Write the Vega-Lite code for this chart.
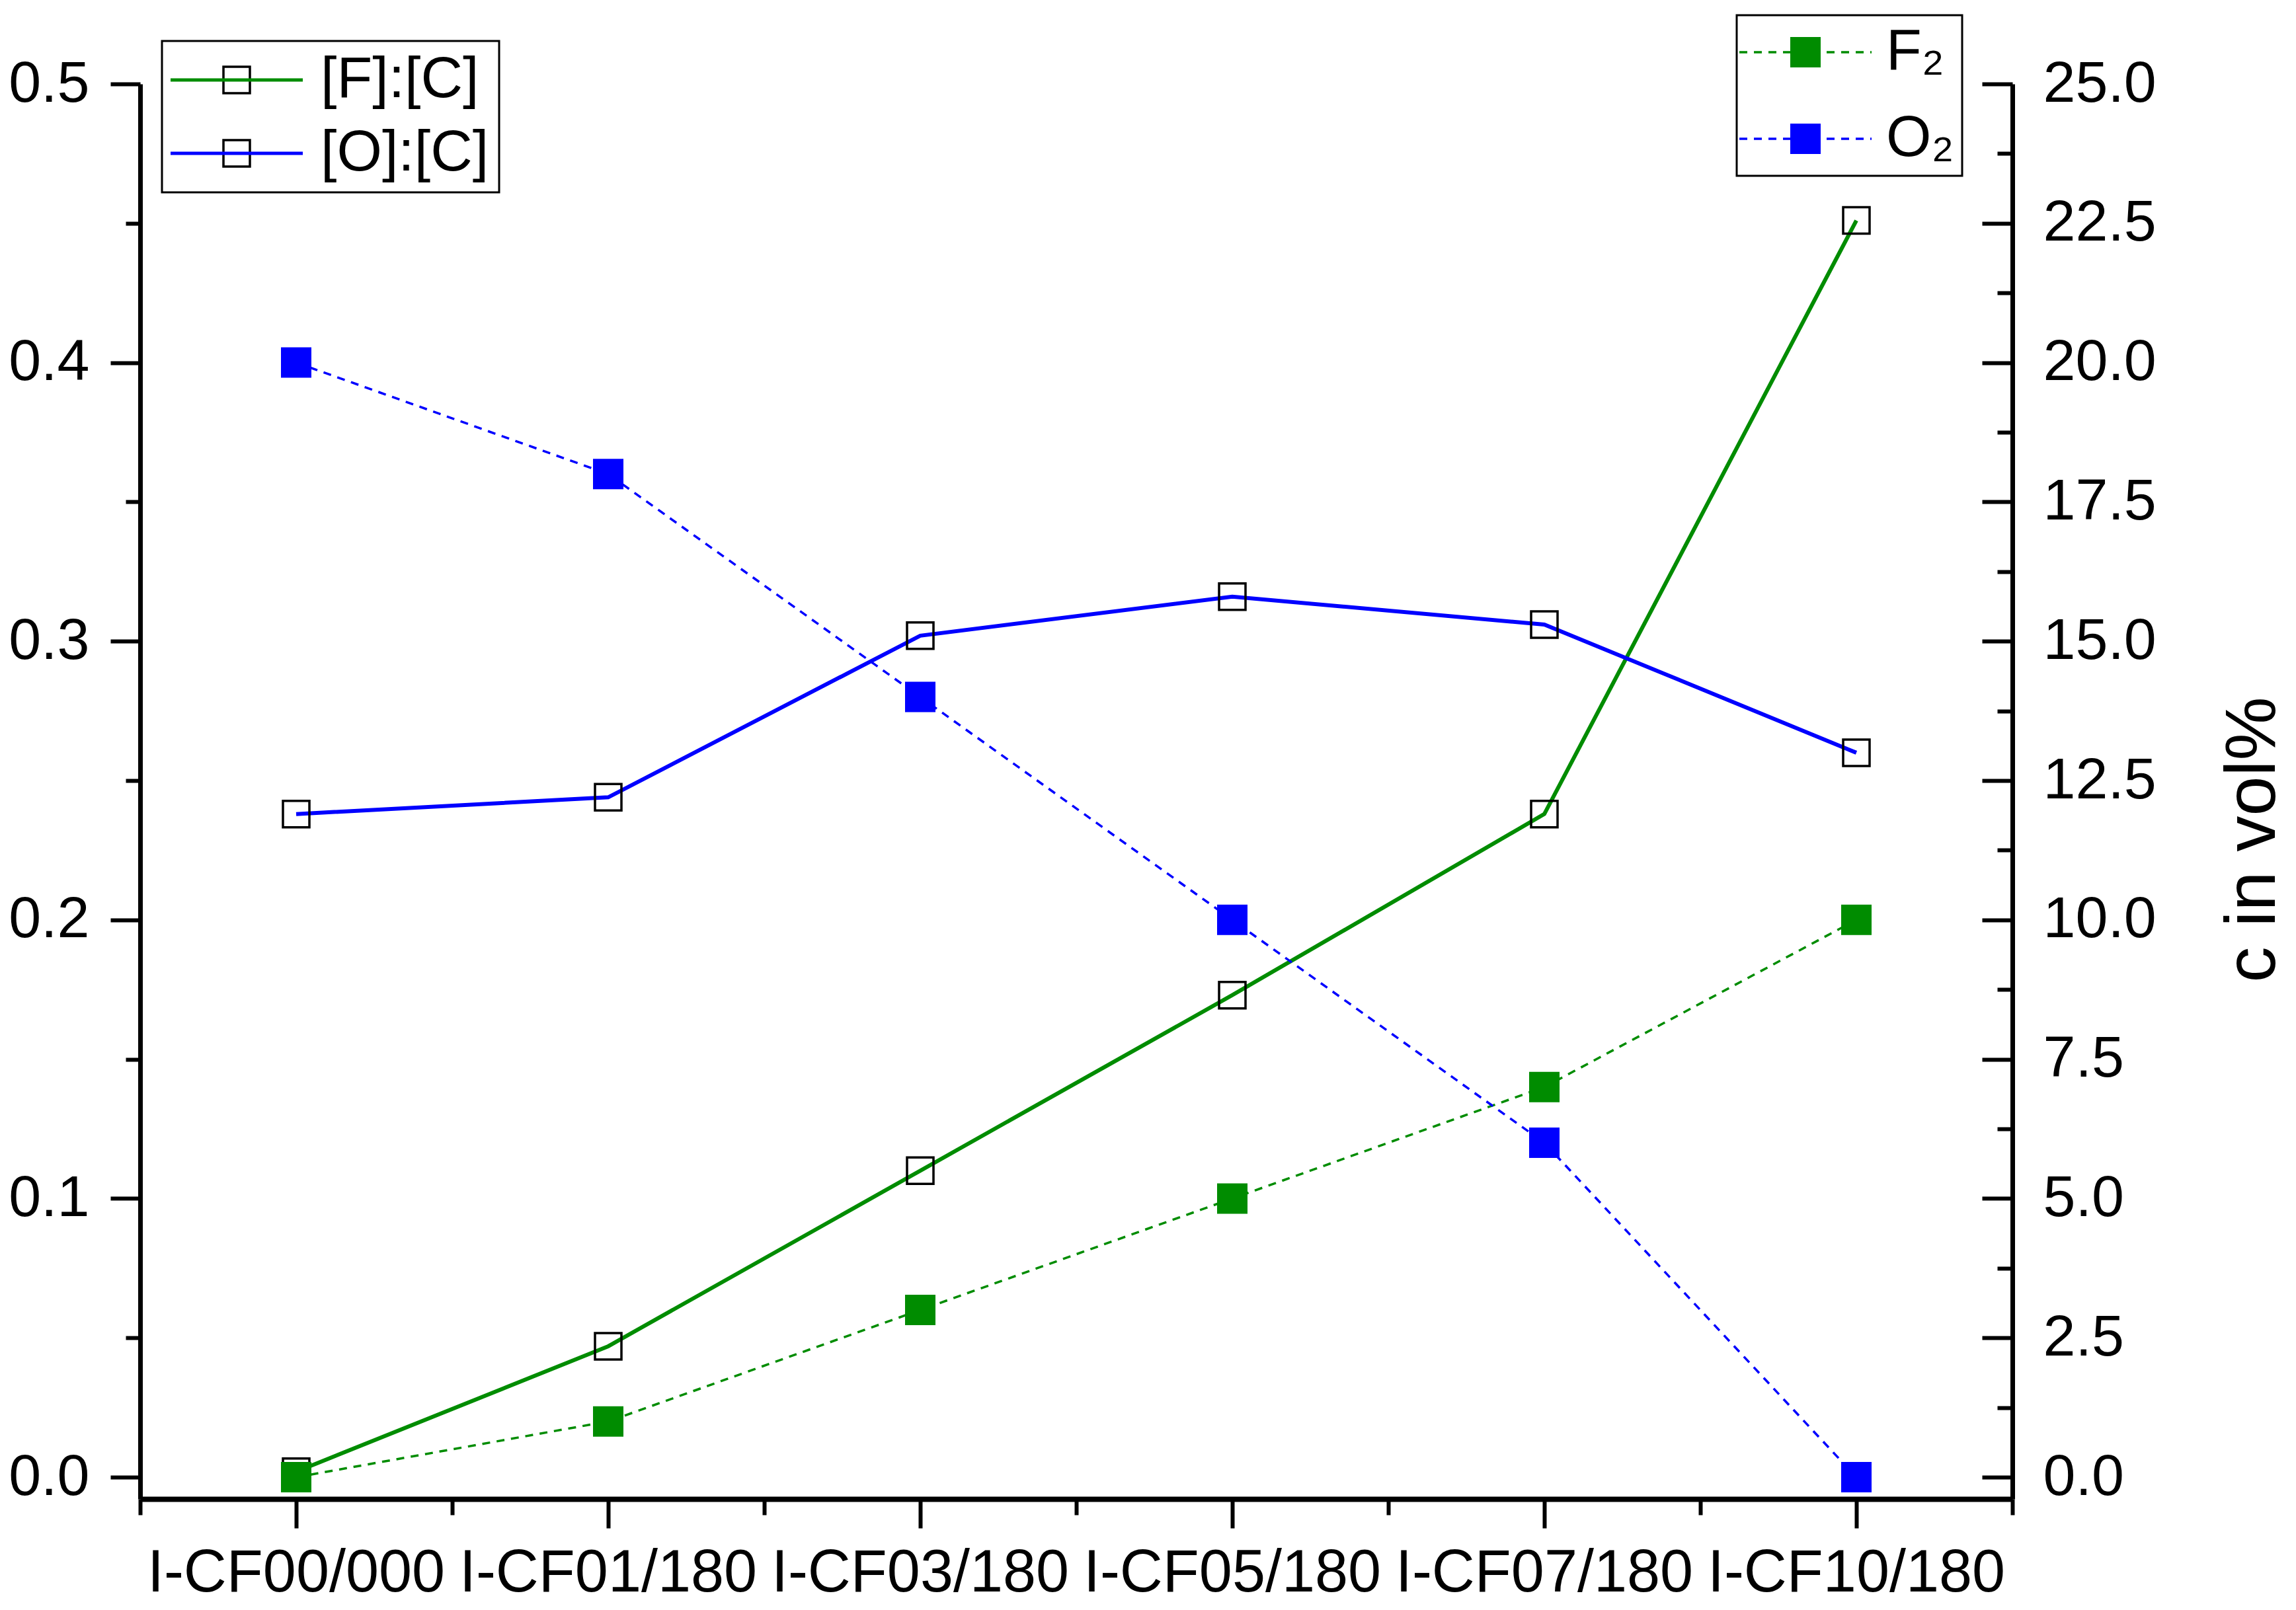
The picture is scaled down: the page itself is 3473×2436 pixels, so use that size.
{
  "$schema": "https://vega.github.io/schema/vega-lite/v6.json",
  "autosize": {"type": "none"},
  "padding": {"left": 212, "top": 127, "right": 429, "bottom": 168},
  "width": 2832,
  "height": 2141,
  "background": "white",
  "config": {
    "view": {"stroke": null},
    "axis": {"grid": false, "labelFont": "Liberation Sans", "titleFont": "Liberation Sans", "domainColor": "black", "tickColor": "black", "labelColor": "black", "titleColor": "black", "titleFontWeight": "normal", "labelLimit": 0},
    "legend": {"labelFont": "Liberation Sans", "labelColor": "black", "labelLimit": 0, "strokeWidth": 3}
  },
  "datasets": {
    "ratio": [
      {"sample": "I-CF00/000", "series": "[F]:[C]", "value": 0.002},
      {"sample": "I-CF01/180", "series": "[F]:[C]", "value": 0.047},
      {"sample": "I-CF03/180", "series": "[F]:[C]", "value": 0.110},
      {"sample": "I-CF05/180", "series": "[F]:[C]", "value": 0.173},
      {"sample": "I-CF07/180", "series": "[F]:[C]", "value": 0.238},
      {"sample": "I-CF10/180", "series": "[F]:[C]", "value": 0.451},
      {"sample": "I-CF00/000", "series": "[O]:[C]", "value": 0.238},
      {"sample": "I-CF01/180", "series": "[O]:[C]", "value": 0.244},
      {"sample": "I-CF03/180", "series": "[O]:[C]", "value": 0.302},
      {"sample": "I-CF05/180", "series": "[O]:[C]", "value": 0.316},
      {"sample": "I-CF07/180", "series": "[O]:[C]", "value": 0.306},
      {"sample": "I-CF10/180", "series": "[O]:[C]", "value": 0.260}
    ],
    "gas": [
      {"sample": "I-CF00/000", "gas": "F₂", "conc": 0},
      {"sample": "I-CF01/180", "gas": "F₂", "conc": 1},
      {"sample": "I-CF03/180", "gas": "F₂", "conc": 3},
      {"sample": "I-CF05/180", "gas": "F₂", "conc": 5},
      {"sample": "I-CF07/180", "gas": "F₂", "conc": 7},
      {"sample": "I-CF10/180", "gas": "F₂", "conc": 10},
      {"sample": "I-CF00/000", "gas": "O₂", "conc": 20},
      {"sample": "I-CF01/180", "gas": "O₂", "conc": 18},
      {"sample": "I-CF03/180", "gas": "O₂", "conc": 14},
      {"sample": "I-CF05/180", "gas": "O₂", "conc": 10},
      {"sample": "I-CF07/180", "gas": "O₂", "conc": 6},
      {"sample": "I-CF10/180", "gas": "O₂", "conc": 0}
    ]
  },
  "layer": [
    {
      "data": {"name": "ratio"},
      "layer": [
        {
          "mark": {"type": "line", "strokeWidth": 6},
          "encoding": {
            "x": {"field": "sample", "type": "nominal", "sort": null,
              "scale": {"type": "band", "paddingInner": 0, "paddingOuter": 0},
              "axis": {"orient": "bottom", "title": null, "domainWidth": 8, "tickSize": 44, "tickWidth": 6, "labelFontSize": 90, "labelPadding": 24, "labelAngle": 0, "labelOverlap": false, "labelBaseline": "top", "labelLimit": 0}},
            "y": {"field": "value", "type": "quantitative",
              "scale": {"domain": [-0.0078, 0.5], "nice": false, "zero": false},
              "axis": {"orient": "left", "title": null, "domainWidth": 7, "tickWidth": 6,
                "values": [0, 0.05, 0.1, 0.15, 0.2, 0.25, 0.3, 0.35, 0.4, 0.45, 0.5],
                "tickSize": {"condition": {"test": "abs(datum.value*10 - round(datum.value*10)) < 0.001", "value": 45}, "value": 22},
                "labelExpr": "abs(datum.value*10 - round(datum.value*10)) < 0.001 ? format(datum.value, '.1f') : ''",
                "labelFontSize": 88, "labelPadding": 32, "labelOverlap": false, "labelFlush": false}},
            "color": {"field": "series", "type": "nominal",
              "scale": {"domain": ["[F]:[C]", "[O]:[C]"], "range": ["#008C00", "#0000FF"]},
              "legend": {"title": null, "orient": "none", "legendX": 33, "legendY": -65, "direction": "vertical", "padding": 15,
                "strokeColor": "black", "symbolType": "M-5,0H5", "symbolSize": 1600, "symbolStrokeWidth": 5,
                "symbolOffset": 54, "labelOffset": 83, "labelFontSize": 88, "rowPadding": 23}}
          }
        },
        {
          "mark": {"type": "point", "shape": "square", "filled": false, "size": 1600, "strokeWidth": 3.5, "opacity": 1},
          "encoding": {
            "x": {"field": "sample", "type": "nominal", "sort": null},
            "y": {"field": "value", "type": "quantitative"},
            "stroke": {"field": "series", "type": "nominal",
              "scale": {"range": ["black", "black"]},
              "legend": {"title": null, "orient": "none", "legendX": 33, "legendY": -65, "direction": "vertical", "padding": 15,
                "symbolType": "square", "symbolSize": 1600, "symbolStrokeWidth": 3.5, "symbolFillColor": "transparent",
                "symbolOffset": 54, "labelOffset": 83, "labelFontSize": 88, "labelOpacity": 0, "rowPadding": 23}}
          }
        }
      ]
    },
    {
      "data": {"name": "gas"},
      "layer": [
        {
          "mark": {"type": "line", "strokeWidth": 3.5, "strokeDash": [12, 10]},
          "encoding": {
            "x": {"field": "sample", "type": "nominal", "sort": null,
              "axis": {"orient": "bottom", "title": null, "domain": false, "labels": false, "tickBand": "extent", "tickSize": 24, "tickWidth": 6}},
            "y": {"field": "conc", "type": "quantitative",
              "scale": {"domain": [-0.391, 25], "nice": false, "zero": false},
              "axis": {"orient": "right", "title": "c in vol%", "titleFontSize": 108, "titleAngle": 270, "titleX": 396, "titleY": 1143,
                "titleAlign": "center", "titleBaseline": "alphabetic",
                "domainWidth": 7, "tickWidth": 6,
                "values": [0, 1.25, 2.5, 3.75, 5, 6.25, 7.5, 8.75, 10, 11.25, 12.5, 13.75, 15, 16.25, 17.5, 18.75, 20, 21.25, 22.5, 23.75, 25],
                "tickSize": {"condition": {"test": "abs(datum.value/2.5 - round(datum.value/2.5)) < 0.001", "value": -46}, "value": -23},
                "labelExpr": "abs(datum.value/2.5 - round(datum.value/2.5)) < 0.001 ? format(datum.value, '.1f') : ''",
                "labelFontSize": 88, "labelPadding": 92, "labelOverlap": false, "labelFlush": false}},
            "color": {"field": "gas", "type": "nominal",
              "scale": {"domain": ["F₂", "O₂"], "range": ["#008C00", "#0000FF"]},
              "legend": {"title": null, "orient": "none", "legendX": 2415, "legendY": -104, "direction": "vertical", "padding": 12,
                "strokeColor": "black", "symbolType": "M-5,0H5", "symbolSize": 1600, "symbolStrokeWidth": 3.5,
                "symbolDash": [12, 10], "symbolOffset": 48, "labelOffset": 78, "labelFontSize": 88, "rowPadding": 43}}
          }
        },
        {
          "mark": {"type": "point", "shape": "square", "filled": true, "size": 2116, "strokeWidth": 0, "opacity": 1},
          "encoding": {
            "x": {"field": "sample", "type": "nominal", "sort": null},
            "y": {"field": "conc", "type": "quantitative"},
            "fill": {"field": "gas", "type": "nominal",
              "scale": {"range": ["#008C00", "#0000FF"]},
              "legend": {"title": null, "orient": "none", "legendX": 2415, "legendY": -104, "direction": "vertical", "padding": 12,
                "symbolType": "square", "symbolSize": 2116, "symbolStrokeWidth": 0,
                "symbolOffset": 48, "labelOffset": 78, "labelFontSize": 88, "labelOpacity": 0, "rowPadding": 43}}
          }
        }
      ]
    }
  ],
  "resolve": {"scale": {"y": "independent", "color": "independent"}, "axis": {"x": "independent"}}
}
